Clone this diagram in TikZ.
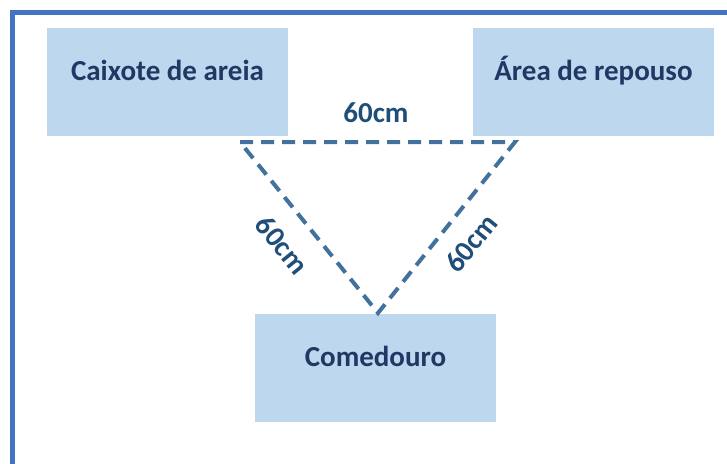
\documentclass[tikz,border=0pt]{standalone}
\usepackage{fontspec}
\setmainfont{Carlito}
\usepackage{xcolor}
\usepackage{tikz}
\definecolor{moldura}{HTML}{4472C4}
\definecolor{caixa}{HTML}{BDD7EE}
\definecolor{escuro}{HTML}{1F3864}
\definecolor{tracejado}{HTML}{41719C}
\definecolor{cota}{HTML}{1F4E79}
\tikzset{
    zona/.style={fill=caixa, minimum width=241, minimum height=108, inner sep=0pt,
        text height=20pt, text depth=24pt, font=\fontsize{29}{32}\selectfont\bfseries, text=escuro},
    medida/.style={draw=tracejado, line width=4pt, dash pattern=on 13pt off 8pt, miter limit=10},
    etiqueta/.style={font=\fontsize{29}{32}\selectfont\bfseries, text=cota, inner sep=0pt}
}

\begin{document}
\begin{tikzpicture}[x=1pt, y=-1pt]
        \useasboundingbox (0,0) rectangle (727,463);
        \clip (0,0) rectangle (727,463);
        % outer frame
        \draw[moldura, line width=5pt] (12,480) -- (12,12.5) -- (740,12.5);
        % boxes
        \node[zona] (areia) at (167.5,82) {Caixote de areia};
        \node[zona] (repouso) at (593.5,82) {Área de repouso};
        \node[zona] (comida) at (375.5,368) {Comedouro};
        % triangle
        \coordinate (p1) at (240,142);
        \coordinate (p2) at (515,142);
        \coordinate (p3) at (378,313);
        \draw[medida] (p1) -- (p2) -- (p3) -- cycle;
        % distances
        \node[etiqueta] (topo) at (376,113) {60cm};
        \node[etiqueta, rotate=-51] (esq) at (282,245) {60cm};
        \node[etiqueta, rotate=51] (dir) at (471,243) {60cm};
    \end{tikzpicture}
\end{document}
